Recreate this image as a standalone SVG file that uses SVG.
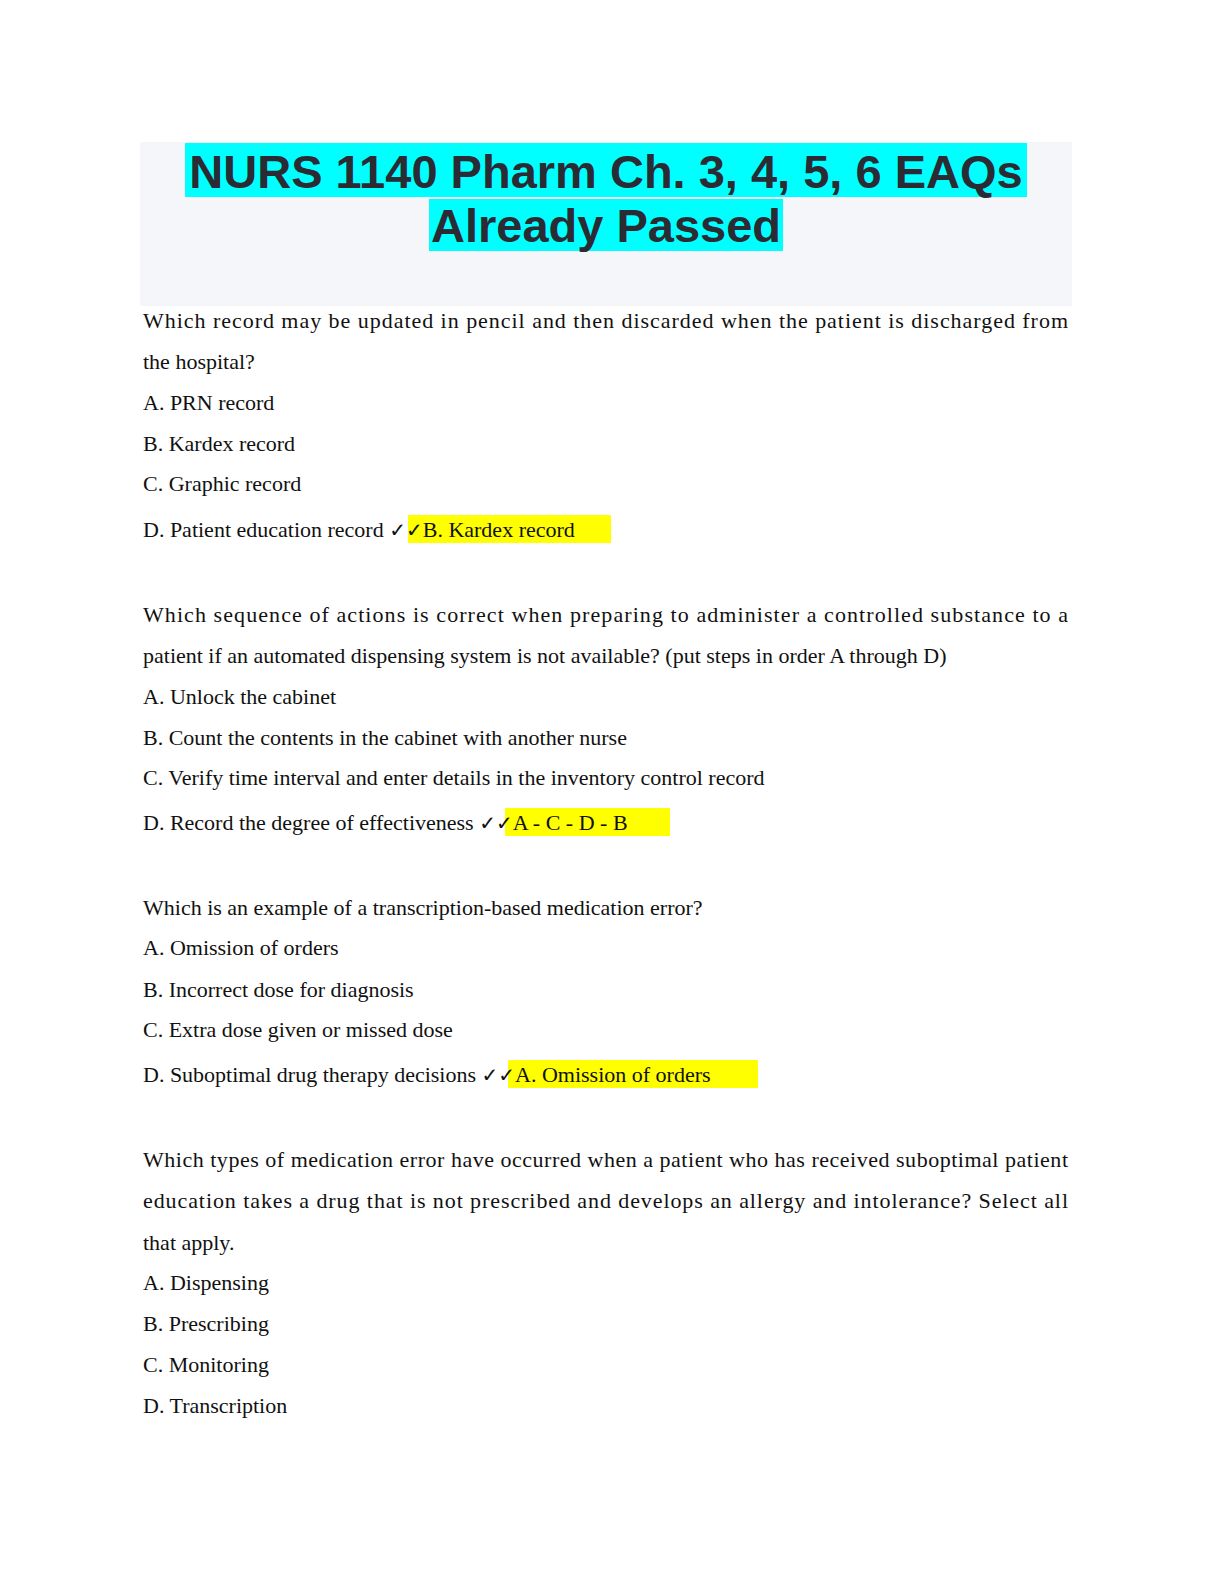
<svg xmlns="http://www.w3.org/2000/svg" width="1224" height="1584" viewBox="0 0 1224 1584">
<style>
.t{font-family:"Liberation Sans",Arial,sans-serif;font-weight:bold;font-size:47px;fill:#2b2b33;text-anchor:middle}
.b{font-family:"Liberation Serif","Times New Roman",serif;font-size:22px;fill:#111}
.c{font-family:"DejaVu Sans",sans-serif;font-size:20px}
.hl{fill:#ffff00}
</style>
<rect width="1224" height="1584" fill="#fff"/>
<rect x="140" y="142" width="932" height="164" fill="#f5f6f9"/>
<rect x="185" y="143" width="842" height="54" fill="#00ffff"/>
<rect x="429" y="199" width="354" height="52" fill="#00ffff"/>
<text class="t" x="606" y="188">NURS 1140 Pharm Ch. 3, 4, 5, 6 EAQs</text>
<text class="t" x="606" y="242">Already Passed</text>

<text class="b" x="143" y="328" textLength="925" lengthAdjust="spacing">Which record may be updated in pencil and then discarded when the patient is discharged from</text>
<text class="b" x="143" y="369">the hospital?</text>
<text class="b" x="143" y="410">A. PRN record</text>
<text class="b" x="143" y="451">B. Kardex record</text>
<text class="b" x="143" y="491">C. Graphic record</text>
<rect class="hl" x="408" y="515" width="203" height="28"/>
<text class="b" x="143" y="537">D. Patient education record <tspan class="c">✓✓</tspan>B. Kardex record</text>

<text class="b" x="143" y="622" textLength="925" lengthAdjust="spacing">Which sequence of actions is correct when preparing to administer a controlled substance to a</text>
<text class="b" x="143" y="663">patient if an automated dispensing system is not available? (put steps in order A through D)</text>
<text class="b" x="143" y="704">A. Unlock the cabinet</text>
<text class="b" x="143" y="745">B. Count the contents in the cabinet with another nurse</text>
<text class="b" x="143" y="785">C. Verify time interval and enter details in the inventory control record</text>
<rect class="hl" x="505" y="808" width="165" height="28"/>
<text class="b" x="143" y="830">D. Record the degree of effectiveness <tspan class="c">✓✓</tspan>A - C - D - B</text>

<text class="b" x="143" y="915">Which is an example of a transcription-based medication error?</text>
<text class="b" x="143" y="955">A. Omission of orders</text>
<text class="b" x="143" y="997">B. Incorrect dose for diagnosis</text>
<text class="b" x="143" y="1037">C. Extra dose given or missed dose</text>
<rect class="hl" x="508" y="1060" width="250" height="28"/>
<text class="b" x="143" y="1082">D. Suboptimal drug therapy decisions <tspan class="c">✓✓</tspan>A. Omission of orders</text>

<text class="b" x="143" y="1167" textLength="925" lengthAdjust="spacing">Which types of medication error have occurred when a patient who has received suboptimal patient</text>
<text class="b" x="143" y="1208" textLength="925" lengthAdjust="spacing">education takes a drug that is not prescribed and develops an allergy and intolerance? Select all</text>
<text class="b" x="143" y="1250">that apply.</text>
<text class="b" x="143" y="1290">A. Dispensing</text>
<text class="b" x="143" y="1331">B. Prescribing</text>
<text class="b" x="143" y="1372">C. Monitoring</text>
<text class="b" x="143" y="1413">D. Transcription</text>
</svg>
